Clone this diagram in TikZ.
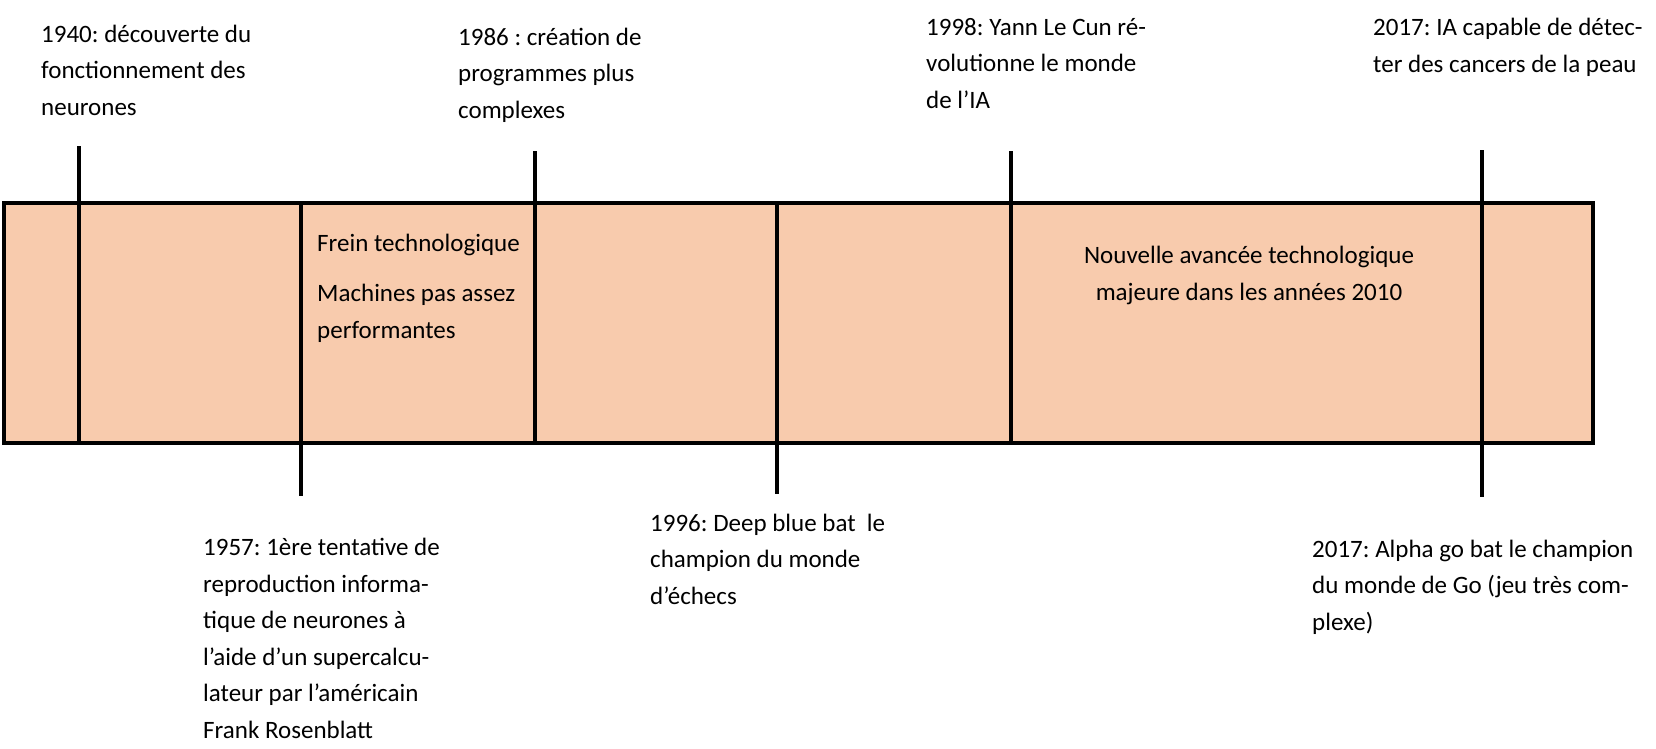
\documentclass[tikz,border=0pt]{standalone}
\usepackage{fontspec}
\setmainfont{Carlito}
\frenchspacing
\definecolor{peach}{HTML}{F8CBAD}
\begin{document}
\begin{tikzpicture}[x=1pt,y=-1pt,
  lbl/.style={anchor=base west,inner sep=0pt,align=left,font=\fontsize{25}{36.5}\selectfont\frenchspacing},
  tick/.style={line width=3.4pt},
  band/.style={fill=peach,draw=black,line width=4pt}]
\useasboundingbox (0,0) rectangle (1656,748);
% band
\draw[band] (4,203) rectangle (1593,443);
% tick coordinates
\coordinate (t1a) at (79,146);  \coordinate (t1b) at (79,441);
\coordinate (t2a) at (301,203); \coordinate (t2b) at (301,496);
\coordinate (t3a) at (535,151); \coordinate (t3b) at (535,441);
\coordinate (t4a) at (777,203); \coordinate (t4b) at (777,494);
\coordinate (t5a) at (1011,151);\coordinate (t5b) at (1011,441);
\coordinate (t6a) at (1482,150);\coordinate (t6b) at (1482,497);
\draw[tick] (t1a) -- (t1b);
\draw[tick] (t2a) -- (t2b);
\draw[tick] (t3a) -- (t3b);
\draw[tick] (t4a) -- (t4b);
\draw[tick] (t5a) -- (t5b);
\draw[tick,line width=4.4pt] (t6a) -- (t6b);
% labels above (anchor = baseline of last line)
\node[lbl] (l1940) at (41,115) {1940: découverte du\\fonctionnement des\\neurones};
\node[lbl] (l1986) at (458,118) {1986 : création de\\programmes plus\\complexes};
\node[lbl] (l1998) at (926,108) {1998: Yann Le Cun ré-\\volutionne le monde\\de l’IA};
\node[lbl] (l2017a) at (1373,72) {2017: IA capable de détec-\\ter des cancers de la peau};
% labels inside band
\node[lbl] (frein) at (317,338) {Frein technologique\\[13.5pt]Machines pas assez\\performantes};
\node[lbl,anchor=base,align=center] (nouv) at (1249,300) {Nouvelle avancée technologique\\majeure dans les années 2010};
% labels below
\node[lbl] (l1957) at (203,738) {1957: 1ère tentative de\\reproduction informa-\\tique de neurones à\\l’aide d’un supercalcu-\\lateur par l’américain\\Frank Rosenblatt};
\node[lbl] (l1996) at (650,604) {1996: Deep blue bat\ \ le\\champion du monde\\d’échecs};
\node[lbl] (l2017b) at (1312,630) {2017: Alpha go bat le champion\\du monde de Go (jeu très com-\\plexe)};
\end{tikzpicture}
\end{document}
